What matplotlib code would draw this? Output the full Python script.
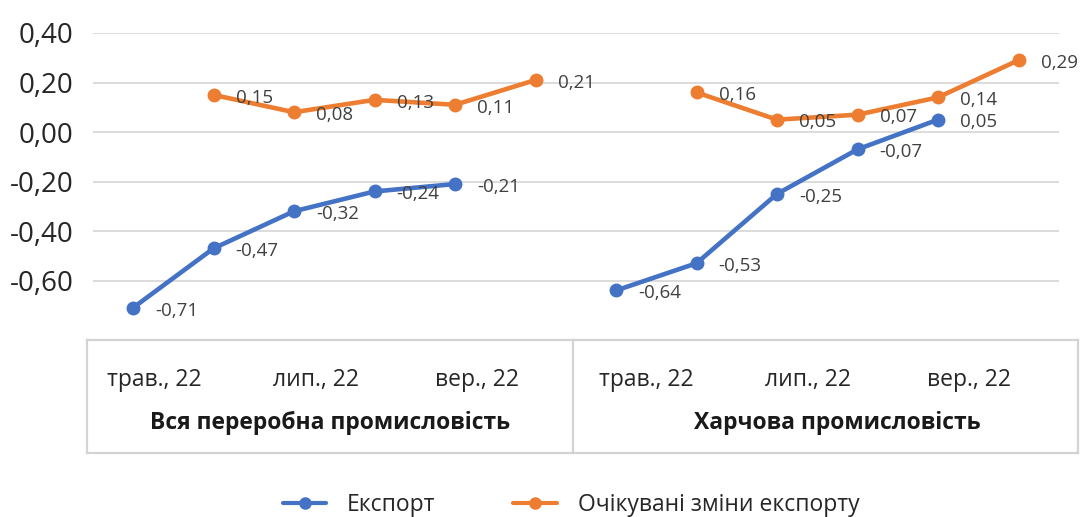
import numpy as np
import matplotlib
matplotlib.use('Agg')
import matplotlib.pyplot as plt
from matplotlib.lines import Line2D
from matplotlib.transforms import blended_transform_factory

plt.rcParams['font.family'] = ['Open Sans', 'DejaVu Sans']

# data
months = ['трав., 22', 'черв., 22', 'лип., 22', 'серп., 22', 'вер., 22', 'жовт., 22']
groups = ['Вся переробна промисловість', 'Харчова промисловість']
export_all = [-0.71, -0.47, -0.32, -0.24, -0.21, np.nan]
expect_all = [np.nan, 0.15, 0.08, 0.13, 0.11, 0.21]
export_food = [-0.64, -0.53, -0.25, -0.07, 0.05, np.nan]
expect_food = [np.nan, 0.16, 0.05, 0.07, 0.14, 0.29]
yticks = [-0.6, -0.4, -0.2, 0.0, 0.2, 0.4]

blue = '#4472C4'
orange = '#ED7D31'
W, H = 1082, 517

fig = plt.figure(figsize=(W / 100, H / 100), dpi=100)
ax = fig.add_axes([92.75 / W, 1 - 340 / H, 966 / W, 307 / H])

n = len(months)
series = [(export_all, export_food, blue, 'Експорт'),
          (expect_all, expect_food, orange, 'Очікувані зміни експорту')]
for a, b, col, name in series:
    for g, vals in enumerate([a, b]):
        x = np.arange(n) + g * n
        ax.plot(x, vals, color=col, lw=3.3, marker='o', ms=9,
                label=name if g == 0 else None, solid_capstyle='round')
        for xi, v in zip(x, vals):
            if np.isnan(v):
                continue
            ax.annotate(f'{v:.2f}'.replace('.', ','), (xi, v),
                        xytext=(16, -2), textcoords='offset points',
                        ha='left', va='center', fontsize=13.5, color='#404040')

ax.set_xlim(-0.5, 2 * n - 0.5)
ax.set_ylim(-0.84, 0.40)
ax.set_yticks(yticks)
ax.set_yticklabels([f'{v:.2f}'.replace('.', ',') for v in yticks],
                   fontsize=20, color='#262626')
ax.tick_params(axis='y', length=0, pad=14)
ax.set_xticks([])
ax.grid(axis='y', color='#d9d9d9', lw=1.3)
ax.set_axisbelow(True)
for s in ax.spines.values():
    s.set_visible(False)

# category box under the plot
box = dict(color='#d3d3d3', lw=1.6)
L, R, T, B, D = 87 / W, 1078 / W, 1 - 340 / H, 1 - 453 / H, 573 / W
for xs, ys in [([L, R], [T, T]), ([L, R], [B, B]), ([L, L], [T, B]),
               ([R, R], [T, B]), ([D, D], [T, B])]:
    fig.add_artist(Line2D(xs, ys, transform=fig.transFigure, **box))

tr = blended_transform_factory(ax.transData, fig.transFigure)
offs = [0.27, 0.38]
for g in range(2):
    for i in range(0, n, 2):
        ax.text(g * n + i + offs[g], 1 - 380 / H, months[i], transform=tr,
                ha='center', va='center', fontsize=16.5, color='#262626')
    ax.text(g * n + (n - 1) / 2 + [-0.05, 0.25][g], 1 - 423 / H, groups[g],
            transform=tr, ha='center', va='center', fontsize=16.5,
            fontweight='bold', color='#1a1a1a')

leg = fig.legend(loc='center', bbox_to_anchor=(571 / W, 1 - 505 / H), ncol=2,
                 frameon=False, fontsize=16.5, handlelength=1.9,
                 handletextpad=0.9, columnspacing=3.4)
for t in leg.get_texts():
    t.set_color('#262626')
for h in leg.legend_handles:
    h.set_markersize(8)
    h.set_linewidth(3)

fig.savefig('out.png', dpi=100)
